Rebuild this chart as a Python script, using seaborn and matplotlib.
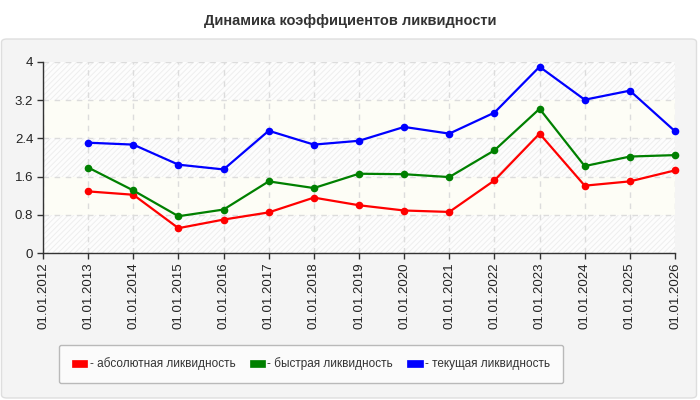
import numpy as np
import pandas as pd
import matplotlib
matplotlib.use('Agg')
import matplotlib.pyplot as plt
import seaborn as sns
from matplotlib.patches import FancyBboxPatch, Patch

# values (one point per year, 01.01.2013 .. 01.01.2026)
years = [2013, 2014, 2015, 2016, 2017, 2018, 2019, 2020, 2021, 2022, 2023, 2024, 2025, 2026]
absolute = [1.29, 1.22, 0.52, 0.70, 0.85, 1.16, 1.00, 0.89, 0.86, 1.52, 2.50, 1.41, 1.50, 1.73]
quick = [1.79, 1.31, 0.77, 0.91, 1.50, 1.36, 1.66, 1.65, 1.59, 2.15, 3.02, 1.82, 2.02, 2.05]
current = [2.31, 2.27, 1.85, 1.75, 2.56, 2.27, 2.35, 2.64, 2.50, 2.94, 3.90, 3.21, 3.40, 2.55]

tick_years = list(range(2012, 2027))
tick_labels = ['01.01.%d' % y for y in tick_years]
y_ticks = [0, 0.8, 1.6, 2.4, 3.2, 4]
y_tick_labels = ['0', '0.8', '1.6', '2.4', '3.2', '4']

series_names = ['- абсолютная ликвидность', '- быстрая ликвидность', '- текущая ликвидность']
series_colors = ['#ff0000', '#008000', '#0000ff']

title = 'Динамика коэффициентов ликвидности'

df = pd.DataFrame({
    'year': years * 3,
    'value': absolute + quick + current,
    'series': [series_names[0]] * len(years) + [series_names[1]] * len(years) + [series_names[2]] * len(years),
})

sns.set_style('white')
plt.rcParams['font.family'] = ['Liberation Sans', 'DejaVu Sans']
plt.rcParams['hatch.linewidth'] = 0.7

fig = plt.figure(figsize=(7, 4), dpi=100)
fig.patch.set_facecolor('white')

# grey rounded panel behind everything
panel = FancyBboxPatch((1.5 / 700, 2 / 400), 695 / 700, 359 / 400,
                       boxstyle='round,pad=0,rounding_size=0.008',
                       transform=fig.transFigure, facecolor='#f4f4f4',
                       edgecolor='#dedede', linewidth=1, zorder=-10)
fig.patches.append(panel)

fig.text(0.5, 0.948, title, ha='center', va='center', fontsize=10.5,
         fontweight='bold', color='#333333')

ax = fig.add_axes([43 / 700, 1 - 253 / 400, 632 / 700, 191 / 400])
ax.set_facecolor('white')

# striped / plain bands in the plot background
for i in range(len(y_ticks) - 1):
    lo, hi = y_ticks[i], y_ticks[i + 1]
    if i % 2 == 0:
        ax.axhspan(lo, hi, facecolor='#fdfdfd', edgecolor='#eeeeee',
                   hatch='//////', linewidth=0, zorder=0)
    else:
        ax.axhspan(lo, hi, facecolor='#fdfdf6', linewidth=0, zorder=0)

sns.lineplot(data=df, x='year', y='value', hue='series', palette=series_colors,
             marker='o', markersize=5.5, markeredgewidth=0, linewidth=1.6,
             legend=False, ax=ax, zorder=3, clip_on=False)

ax.set_xlim(2012, 2026)
ax.set_ylim(0, 4)
ax.set_xticks(tick_years)
ax.set_xticklabels(tick_labels, rotation=90, fontsize=9.5, color='#222222')
ax.set_yticks(y_ticks)
ax.set_yticklabels(y_tick_labels, fontsize=9.5, color='#222222')
ax.set_xlabel('')
ax.set_ylabel('')

ax.grid(True, color='#dcdcdc', linestyle=(0, (4, 4)), linewidth=1)
ax.set_axisbelow(True)
for s in ['top', 'right']:
    ax.spines[s].set_visible(False)
for s in ['left', 'bottom']:
    ax.spines[s].set_color('#333333')
    ax.spines[s].set_linewidth(1)
ax.tick_params(axis='both', direction='out', length=4, width=1, color='#333333',
               left=True, bottom=True, pad=3)

handles = [Patch(facecolor=c, edgecolor=c, linewidth=0.5) for c in series_colors]
leg = fig.legend(handles, series_names, loc='center', bbox_to_anchor=(311 / 700, 1 - 364 / 400),
                 ncol=3, fontsize=8.5, frameon=True, fancybox=True, borderpad=1.1,
                 handlelength=1.3, handleheight=0.6, handletextpad=0.2,
                 columnspacing=1.2, labelcolor='#333333')
leg.get_frame().set_facecolor('#fdfdfd')
leg.get_frame().set_edgecolor('#aaaaaa')
leg.get_frame().set_linewidth(1)

fig.savefig('out.png', dpi=100)
